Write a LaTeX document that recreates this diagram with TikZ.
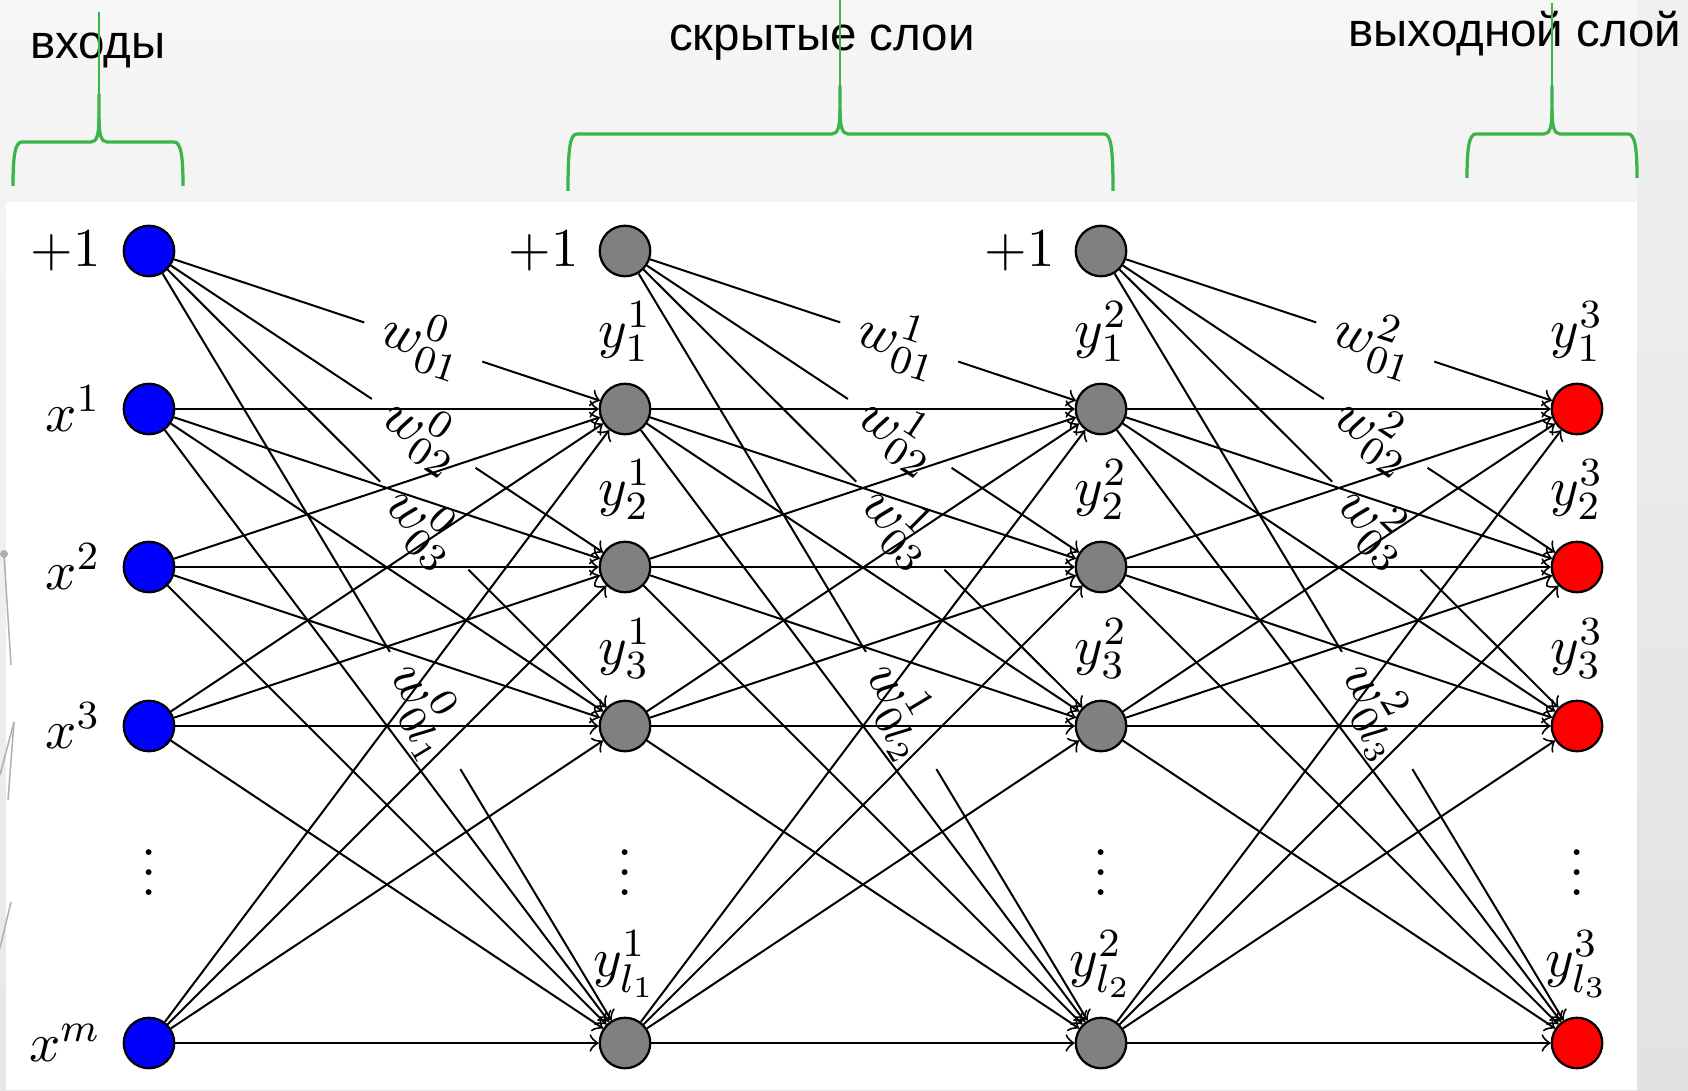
\documentclass[tikz,border=0pt,11pt]{standalone}
\usepackage{fontspec}
\newfontfamily\rufont{Liberation Sans}
\usetikzlibrary{positioning}
\newcommand\netfont{\normalsize}
\definecolor{inblue}{RGB}{0,0,255}
\definecolor{hidgray}{RGB}{128,128,128}
\definecolor{outred}{RGB}{255,0,0}
\definecolor{bracegreen}{RGB}{60,180,75}
\definecolor{bgtop}{RGB}{246,246,246}
\definecolor{bgbot}{RGB}{230,232,232}
\definecolor{sidetop}{RGB}{240,240,240}
\definecolor{sidemid}{RGB}{212,215,217}
\definecolor{sidebot}{RGB}{224,226,227}
\definecolor{decogray}{RGB}{175,175,175}
\begin{document}
\begin{tikzpicture}[x=0.2pt, y=-0.2pt,
  neuron/.style={circle, draw=black, line width=0.45pt, minimum size=10.1pt, inner sep=0pt},
  innode/.style={neuron, fill=inblue},
  hidnode/.style={neuron, fill=hidgray},
  outnode/.style={neuron, fill=outred},
  conn/.style={->, line width=0.4pt},
  wlab/.style={sloped, pos=0.585, fill=white, inner xsep=4pt, inner ysep=1.5pt, font=\netfont},
  sidelab/.style={inner sep=0pt, font=\netfont},
  toplab/.style={inner sep=0pt, font=\netfont},
  brace/.style={draw=bracegreen, line width=0.65pt},
  thinline/.style={draw=bracegreen, line width=0.3pt},
  heading/.style={font=\rufont\fontsize{9.5}{11}\selectfont, inner sep=0pt, anchor=base},
  deco/.style={draw=decogray, line width=0.3pt}
]
\useasboundingbox (0,0) rectangle (1688,1090);

% backdrop and white panel
\shade[top color=bgtop, bottom color=bgbot] (0,0) rectangle (1688,1090);
\shade[top color=sidetop, middle color=sidemid, bottom color=sidebot] (1637,0) rectangle (1688,1090);
\fill[white] (6,202) rectangle (1637,1090);

% faint fragments at the left border
\fill[decogray] (4,554) circle (0.8pt);
\draw[deco] (4,554) -- (11,665);
\draw[deco] (0,775) -- (14,722);
\draw[deco] (14,722) -- (8,800);
\draw[deco] (0,948) -- (11,902);

% headings
\node[heading] (hin) at (98,59) {входы};
\node[heading] (hhid) at (822,51) {скрытые слои};
\node[heading] (hout) at (1515,47) {выходной слой};

% curly braces
\foreach \L/\M/\R/\H/\B/\T in {13/99/183/142/186/12, 568/840/1113/134/191/0, 1467/1552/1637/134/178/3} {
  \draw[brace] (\L,\B) .. controls (\L,\H+14) and (\L+2,\H) .. (\L+9,\H) -- (\M-8,\H)
     .. controls (\M-2,\H) and (\M,\H-8) .. (\M,\H-24) -- (\M,\H-48);
  \draw[brace] (\M,\H-24) .. controls (\M,\H-8) and (\M+2,\H) .. (\M+8,\H) -- (\R-9,\H)
     .. controls (\R-2,\H) and (\R,\H+14) .. (\R,\B);
  \draw[thinline] (\M,\H-48) -- (\M,\T);
}

% neurons
\node[innode] (c0-0) at (149,251) {};
\node[innode] (c0-1) at (149,409) {};
\node[innode] (c0-2) at (149,567) {};
\node[innode] (c0-3) at (149,726) {};
\node[innode] (c0-4) at (149,1043) {};

\node[hidnode] (c1-0) at (625,251) {};
\node[hidnode] (c1-1) at (625,409) {};
\node[hidnode] (c1-2) at (625,567) {};
\node[hidnode] (c1-3) at (625,726) {};
\node[hidnode] (c1-4) at (625,1043) {};

\node[hidnode] (c2-0) at (1101,251) {};
\node[hidnode] (c2-1) at (1101,409) {};
\node[hidnode] (c2-2) at (1101,567) {};
\node[hidnode] (c2-3) at (1101,726) {};
\node[hidnode] (c2-4) at (1101,1043) {};

\node[outnode] (c3-1) at (1577,409) {};
\node[outnode] (c3-2) at (1577,567) {};
\node[outnode] (c3-3) at (1577,726) {};
\node[outnode] (c3-4) at (1577,1043) {};

% vertical ellipses between the third and the last row
\foreach \x/\n in {149/0, 625/1, 1101/2, 1577/3}
  \node[font=\netfont, inner sep=0pt, anchor=base] (dots\n) at (\x,895) {$\vdots$};

% input labels
\node[sidelab, left=4.2pt of c0-0] (l00) {$+1$};
\node[sidelab, left=4.2pt of c0-1] (l01) {$x^1$};
\node[sidelab, left=4.2pt of c0-2] (l02) {$x^2$};
\node[sidelab, left=4.2pt of c0-3] (l03) {$x^3$};
\node[sidelab, left=4.2pt of c0-4] (l04) {$x^m$};
\node[sidelab, left=3.8pt of c1-0] (l10) {$+1$};
\node[sidelab, left=3.8pt of c2-0] (l20) {$+1$};

% unit labels above the neurons
\foreach \c/\t in {1/{l_1}, 2/{l_2}, 3/{l_3}} {
  \node[toplab, above=4pt of c\c-1] (y\c-1) {$y^{\c}_1$};
  \node[toplab, above=4pt of c\c-2] (y\c-2) {$y^{\c}_2$};
  \node[toplab, above=4pt of c\c-3] (y\c-3) {$y^{\c}_3$};
  \node[toplab, above=3.6pt of c\c-4] (y\c-4) {$y^{\c}_{\t}$};
}

% connections: bias weights first, then the dense links
\foreach \k/\kk/\t in {0/1/{l_1}, 1/2/{l_2}, 2/3/{l_3}} {
  \draw[conn] (c\k-0) -- node[wlab] {$w^{\k}_{01}$} (c\kk-1);
  \draw[conn] (c\k-0) -- node[wlab] {$w^{\k}_{02}$} (c\kk-2);
  \draw[conn] (c\k-0) -- node[wlab] {$w^{\k}_{03}$} (c\kk-3);
  \draw[conn] (c\k-0) -- node[wlab] {$w^{\k}_{0\t}$} (c\kk-4);
  \foreach \s in {1,2,3,4}
    \foreach \d in {1,2,3,4}
      \draw[conn] (c\k-\s) -- (c\kk-\d);
}
\end{tikzpicture}
\end{document}
